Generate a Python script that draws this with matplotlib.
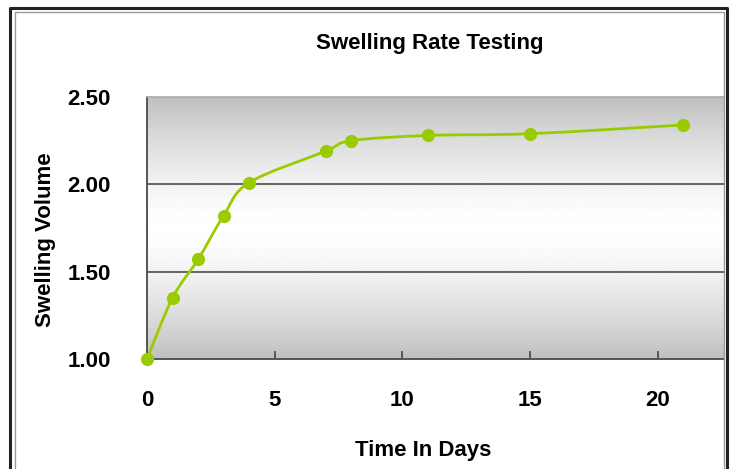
import numpy as np
import matplotlib
matplotlib.use("Agg")
from matplotlib import pyplot as plt
from matplotlib.lines import Line2D
from matplotlib.path import Path
from matplotlib.patches import PathPatch

# swelling test readings
days = [0, 1, 2, 3, 4, 7, 8, 11, 15, 21]
volume = [1.00, 1.35, 1.57, 1.82, 2.01, 2.19, 2.25, 2.28, 2.29, 2.34]
xticks = [0, 5, 10, 15, 20]
yticks = [1.00, 1.50, 2.00, 2.50]

plt.rcParams['font.family'] = ['Liberation Sans', 'DejaVu Sans']
plt.rcParams['font.weight'] = 'bold'

W, H = 731, 469
fig = plt.figure(figsize=(W / 100, H / 100), dpi=100)
fig.patch.set_facecolor('white')

def fx(px):
    return px / W

def fy(py):
    return 1 - py / H

ax = fig.add_axes([fx(147), fy(359), fx(724) - fx(147), fy(97) - fy(359)])
ax.set_xlim(0, 22.6)
ax.set_ylim(1.0, 2.5)

#gradient background: gray at top/bottom, white in the middle
yy = np.linspace(0, 1, 300)
shade = 1 - 0.25 * np.abs(2 * yy - 1) ** 1.5
grad = np.repeat(shade[:, None], 2, axis=1)
ax.imshow(grad, cmap='gray', vmin=0, vmax=1, aspect='auto', origin='lower',
          extent=[0, 22.6, 1.0, 2.5], zorder=0, interpolation='bilinear')

for g in [1.5, 2.0]:
    ax.axhline(g, color='#4a4a4a', lw=1.2, zorder=1)

#smoothed line like excel: cubic bezier through the points
pts = np.column_stack([days, volume]).astype(float)
verts = [pts[0]]
codes = [Path.MOVETO]
n = len(pts)
for i in range(n - 1):
    p0 = pts[i - 1] if i > 0 else pts[i]
    p1 = pts[i]
    p2 = pts[i + 1]
    p3 = pts[i + 2] if i + 2 < n else pts[i + 1]
    verts += [p1 + (p2 - p0) / 6, p2 - (p3 - p1) / 6, p2]
    codes += [Path.CURVE4] * 3
ax.add_patch(PathPatch(Path(verts, codes), facecolor='none', edgecolor='#99CC00',
                       lw=2.0, zorder=3, clip_on=False))
ax.plot(days, volume, linestyle='none', marker='o', markersize=9.5, color='#99CC00',
        markeredgewidth=0, zorder=4, clip_on=False)

ax.set_xticks(xticks)
ax.set_yticks(yticks)
ax.set_xticklabels([str(t) for t in xticks], fontsize=16, fontweight='bold')
ax.set_yticklabels(['%.2f' % t for t in yticks], fontsize=16, fontweight='bold')
ax.tick_params(axis='x', direction='in', length=6, width=1.2, color='#444444', pad=22)
ax.tick_params(axis='y', length=0, pad=26)

for s in ['left', 'bottom']:
    ax.spines[s].set_color('#555555')
    ax.spines[s].set_linewidth(1.4)
ax.spines['top'].set_color('#aaaaaa')
ax.spines['top'].set_linewidth(1.2)
ax.spines['right'].set_visible(False)

fig.text(fx(430), fy(43), "Swelling Rate Testing", fontsize=16, fontweight='bold',
         ha='center', va='center')
fig.text(fx(423), fy(450), "Time In Days", fontsize=16, fontweight='bold',
         ha='center', va='center')
fig.text(fx(46), fy(240), "Swelling Volume", fontsize=16, fontweight='bold',
         ha='center', va='center', rotation=90)

#double frame around the chart
fig.add_artist(Line2D([fx(10), fx(10), fx(727), fx(727)], [0, fy(8), fy(8), 0],
                      color='#222222', lw=2.2))
fig.add_artist(Line2D([fx(14.5), fx(14.5), fx(723.5), fx(723.5)], [0, fy(12), fy(12), 0],
                      color='#999999', lw=1.0))

fig.savefig("out.png", dpi=100)
